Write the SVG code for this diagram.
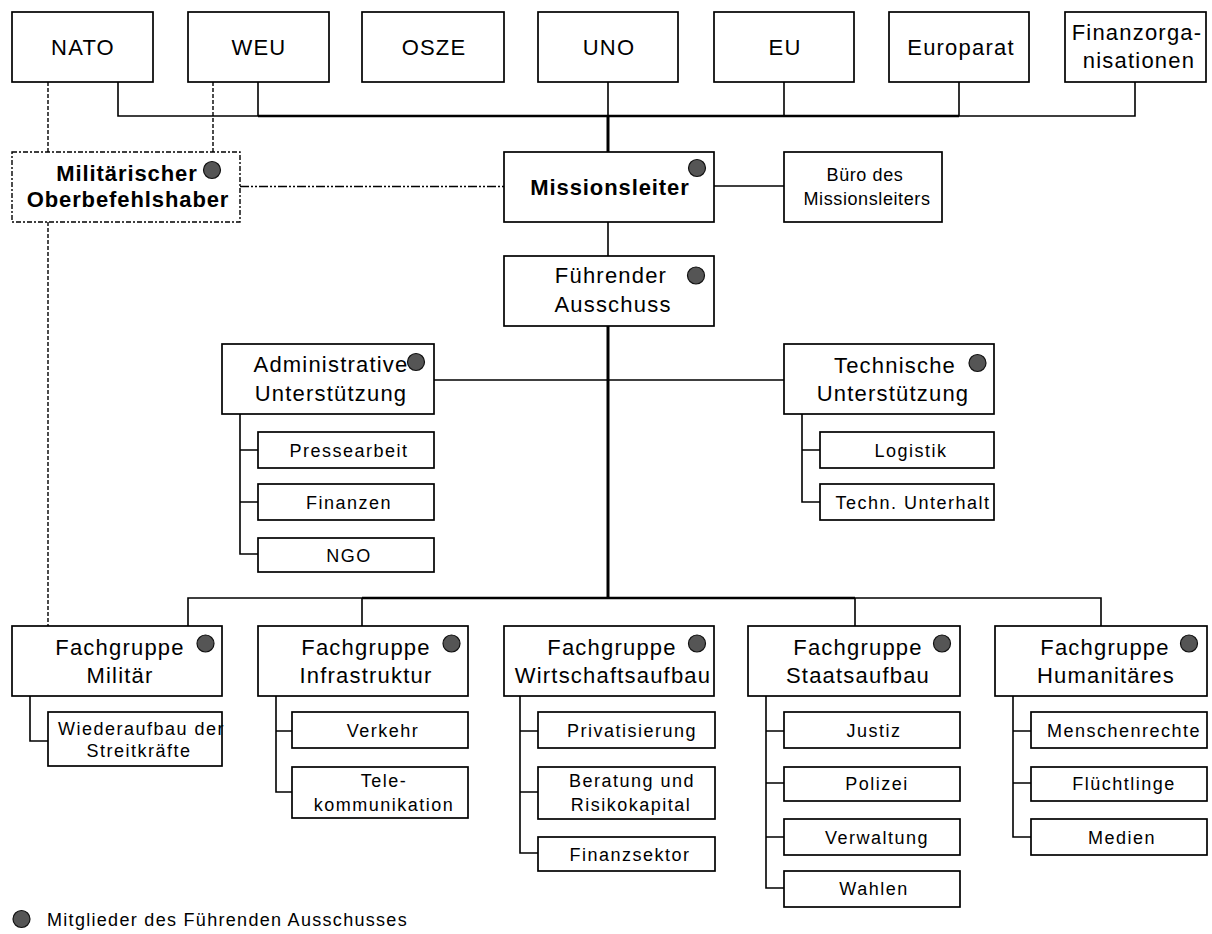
<svg xmlns="http://www.w3.org/2000/svg" width="1212" height="934" viewBox="0 0 1212 934">
<style>
.box{fill:#fff;stroke:#000;stroke-width:1.7}
.dbox{fill:#fff;stroke:#000;stroke-width:1.4;stroke-dasharray:5,2,2,2}
.ln{fill:none;stroke:#000;stroke-width:1.6}
.thk{fill:none;stroke:#000;stroke-width:3}
.mid{fill:none;stroke:#000;stroke-width:2.3}
.dash{fill:none;stroke:#000;stroke-width:1.4;stroke-dasharray:4,2}
.dd{fill:none;stroke:#000;stroke-width:1.4;stroke-dasharray:9,2,2,2,2,2}
.dot{fill:#555;stroke:#111;stroke-width:1.2}
text{font-family:"Liberation Sans",Arial,sans-serif;fill:#000;text-anchor:middle}
.lg{font-size:22px;letter-spacing:1.2px}
.sm{font-size:18px;letter-spacing:1.5px}
.bd{font-size:22px;font-weight:bold;letter-spacing:0.9px}
.bu{font-size:18px;letter-spacing:0.6px}
</style>
<g id="connectors">
<path class="ln" d="M118,82V116H258M258,82V116M959,116H1135V82M959,82V116M784,82V116M608,82V116"/>
<path class="mid" d="M258,116H959"/>
<path class="thk" d="M608,116V152"/>
<path class="dash" d="M48,82V152M213,82V152M48,222V626"/>
<path class="dd" d="M240,186.5H504"/>
<path class="ln" d="M714,186H784"/>
<path class="ln" d="M608,222V256"/>
<path class="thk" d="M608,326V598"/>
<path class="ln" d="M434,380H784"/>
<path class="ln" d="M240,414V554H258M240,450H258M240,502H258"/>
<path class="ln" d="M802,414V502H820M802,450H820"/>
<path class="ln" d="M188,626V598H362M1101,626V598H855"/>
<path class="mid" d="M362,598H855"/>
<path class="ln" d="M362,598V626M855,598V626"/>
<path class="ln" d="M30,696V741H48"/>
<path class="ln" d="M276,696V792H292M276,731H292"/>
<path class="ln" d="M520,696V853H538M520,731H538M520,792H538"/>
<path class="ln" d="M766,696V888H784M766,731H784M766,783H784M766,837H784"/>
<path class="ln" d="M1013,696V837H1031M1013,731H1031M1013,783H1031"/>
</g>
<g id="nato"><rect class="box" x="12" y="12" width="141" height="70"/><text class="lg" x="83" y="55">NATO</text></g>
<g id="weu"><rect class="box" x="188" y="12" width="141" height="70"/><text class="lg" x="259" y="55">WEU</text></g>
<g id="osze"><rect class="box" x="362" y="12" width="142" height="70"/><text class="lg" x="434" y="55">OSZE</text></g>
<g id="uno"><rect class="box" x="538" y="12" width="140" height="70"/><text class="lg" x="609" y="55">UNO</text></g>
<g id="eu"><rect class="box" x="714" y="12" width="140" height="70"/><text class="lg" x="785" y="55">EU</text></g>
<g id="europarat"><rect class="box" x="889" y="12" width="140" height="70"/><text class="lg" x="961" y="55">Europarat</text></g>
<g id="finanzorg"><rect class="box" x="1065" y="12" width="141" height="70"/><text class="lg" x="1137" y="40">Finanzorga-</text><text class="lg" x="1139" y="68">nisationen</text></g>
<g id="militaerischer"><rect class="dbox" x="12" y="152" width="228" height="70"/><text class="bd" x="127" y="181">Militärischer</text><text class="bd" x="128" y="207">Oberbefehlshaber</text><circle class="dot" cx="212" cy="170" r="8.5"/></g>
<g id="missionsleiter"><rect class="box" x="504" y="152" width="210" height="70"/><text class="bd" x="610" y="195">Missionsleiter</text><circle class="dot" cx="697" cy="168" r="8.5"/></g>
<g id="buero"><rect class="box" x="784" y="152" width="158" height="70"/><text class="bu" x="865" y="181">Büro des</text><text class="bu" x="867" y="205">Missionsleiters</text></g>
<g id="fuehrender"><rect class="box" x="504" y="256" width="210" height="70"/><text class="lg" x="611" y="283">Führender</text><text class="lg" x="613" y="312">Ausschuss</text><circle class="dot" cx="696" cy="275.5" r="8.5"/></g>
<g id="admin"><rect class="box" x="222" y="344" width="212" height="70"/><text class="lg" x="331" y="372">Administrative</text><text class="lg" x="331" y="401">Unterstützung</text><circle class="dot" cx="416" cy="362" r="8.5"/></g>
<g id="tech"><rect class="box" x="784" y="344" width="210" height="70"/><text class="lg" x="895" y="373">Technische</text><text class="lg" x="893" y="401">Unterstützung</text><circle class="dot" cx="977.5" cy="363" r="8.5"/></g>
<g id="pressearbeit"><rect class="box" x="258" y="432" width="176" height="36"/><text class="sm" x="349" y="457">Pressearbeit</text></g>
<g id="finanzen"><rect class="box" x="258" y="484" width="176" height="36"/><text class="sm" x="349" y="509">Finanzen</text></g>
<g id="ngo"><rect class="box" x="258" y="538" width="176" height="34"/><text class="sm" x="349" y="562">NGO</text></g>
<g id="logistik"><rect class="box" x="820" y="432" width="174" height="36"/><text class="sm" x="911" y="457">Logistik</text></g>
<g id="unterhalt"><rect class="box" x="820" y="484" width="174" height="36"/><text class="sm" x="913" y="509">Techn. Unterhalt</text></g>
<g id="fg-militaer"><rect class="box" x="12" y="626" width="210" height="70"/><text class="lg" x="120" y="655">Fachgruppe</text><text class="lg" x="120" y="683">Militär</text><circle class="dot" cx="205.5" cy="643.5" r="8.5"/></g>
<g id="fg-infra"><rect class="box" x="258" y="626" width="210" height="70"/><text class="lg" x="366" y="655">Fachgruppe</text><text class="lg" x="366" y="683">Infrastruktur</text><circle class="dot" cx="451.5" cy="643.5" r="8.5"/></g>
<g id="fg-wirtschaft"><rect class="box" x="504" y="626" width="210" height="70"/><text class="lg" x="612" y="655">Fachgruppe</text><text class="lg" x="613" y="683">Wirtschaftsaufbau</text><circle class="dot" cx="697" cy="643.5" r="8.5"/></g>
<g id="fg-staat"><rect class="box" x="748" y="626" width="212" height="70"/><text class="lg" x="858" y="655">Fachgruppe</text><text class="lg" x="858" y="683">Staatsaufbau</text><circle class="dot" cx="942" cy="643.5" r="8.5"/></g>
<g id="fg-hum"><rect class="box" x="995" y="626" width="212" height="70"/><text class="lg" x="1105" y="655">Fachgruppe</text><text class="lg" x="1106" y="683">Humanitäres</text><circle class="dot" cx="1189" cy="643.5" r="8.5"/></g>
<g id="wiederaufbau"><rect class="box" x="48" y="712" width="174" height="54"/><text class="sm" x="58" y="735" style="text-anchor:start">Wiederaufbau der</text><text class="sm" x="139" y="757">Streitkräfte</text></g>
<g id="verkehr"><rect class="box" x="292" y="712" width="176" height="36"/><text class="sm" x="383" y="737">Verkehr</text></g>
<g id="tele"><rect class="box" x="292" y="767" width="176" height="51"/><text class="sm" x="384" y="787">Tele-</text><text class="sm" x="384" y="811">kommunikation</text></g>
<g id="privatisierung"><rect class="box" x="538" y="712" width="177" height="36"/><text class="sm" x="632" y="737">Privatisierung</text></g>
<g id="beratung"><rect class="box" x="538" y="767" width="177" height="52"/><text class="sm" x="632" y="787">Beratung und</text><text class="sm" x="631" y="811">Risikokapital</text></g>
<g id="finanzsektor"><rect class="box" x="538" y="837" width="177" height="34"/><text class="sm" x="630" y="861">Finanzsektor</text></g>
<g id="justiz"><rect class="box" x="784" y="712" width="176" height="36"/><text class="sm" x="874" y="737">Justiz</text></g>
<g id="polizei"><rect class="box" x="784" y="767" width="176" height="34"/><text class="sm" x="877" y="790">Polizei</text></g>
<g id="verwaltung"><rect class="box" x="784" y="819" width="176" height="36"/><text class="sm" x="877" y="844">Verwaltung</text></g>
<g id="wahlen"><rect class="box" x="784" y="871" width="176" height="36"/><text class="sm" x="874" y="895">Wahlen</text></g>
<g id="menschenrechte"><rect class="box" x="1031" y="712" width="176" height="36"/><text class="sm" x="1124" y="737">Menschenrechte</text></g>
<g id="fluechtlinge"><rect class="box" x="1031" y="767" width="176" height="34"/><text class="sm" x="1124" y="790">Flüchtlinge</text></g>
<g id="medien"><rect class="box" x="1031" y="819" width="176" height="36"/><text class="sm" x="1122" y="844">Medien</text></g>
<g id="legend"><circle class="dot" cx="21.5" cy="919" r="8.5"/><text class="sm" x="47" y="926" style="text-anchor:start;letter-spacing:1.3px">Mitglieder des Führenden Ausschusses</text></g>
</svg>
